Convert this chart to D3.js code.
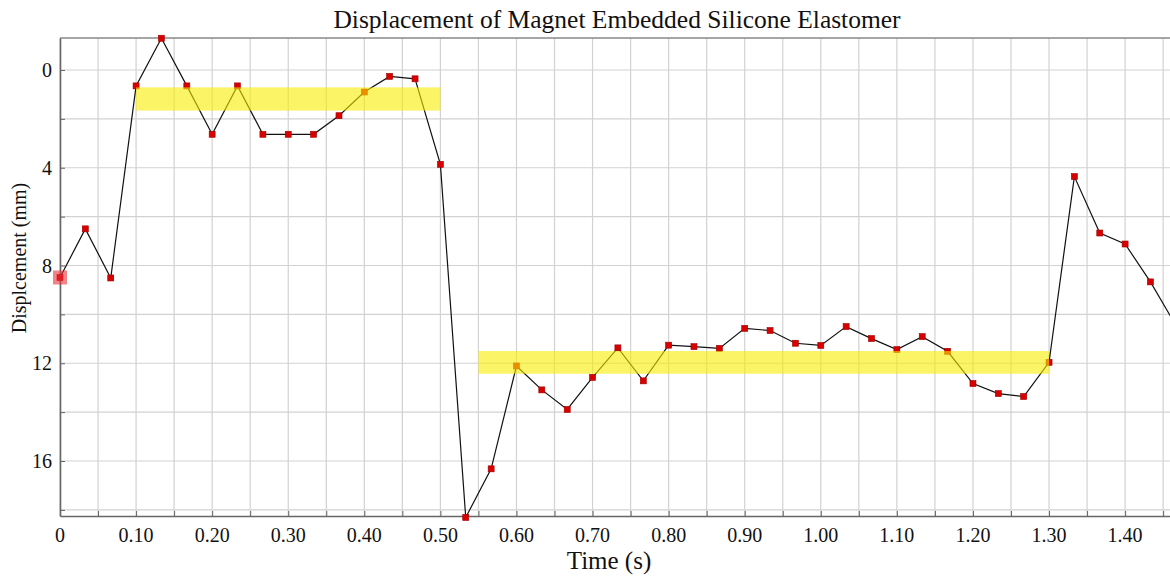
<!DOCTYPE html>
<html>
<head>
<meta charset="utf-8">
<script src="https://cdn.jsdelivr.net/npm/d3@7"></script>
<style>
  body { margin: 0; background: #fff; }
  svg { display: block; font-family: "Liberation Serif", "Times New Roman", serif; }
</style>
</head>
<body>
<div id="chart"></div>
<script>
// sample times (s), one frame every 1/30 s
var times = [0, 0.0333, 0.0667, 0.1, 0.1333, 0.1667, 0.2, 0.2333, 0.2667, 0.3,
  0.3333, 0.3667, 0.4, 0.4333, 0.4667, 0.5, 0.5333, 0.5667, 0.6, 0.6333,
  0.6667, 0.7, 0.7333, 0.7667, 0.8, 0.8333, 0.8667, 0.9, 0.9333, 0.9667,
  1.0, 1.0333, 1.0667, 1.1, 1.1333, 1.1667, 1.2, 1.2333, 1.2667, 1.3,
  1.3333, 1.3667, 1.4, 1.4333, 1.4667];

// displacement (mm)
var displacement = [8.49, 6.50, 8.51, 0.65, -1.30, 0.65, 2.63, 0.65, 2.63, 2.63,
  2.63, 1.87, 0.90, 0.26, 0.36, 3.86, 18.31, 16.32, 12.11, 13.09,
  13.89, 12.58, 11.37, 12.72, 11.26, 11.32, 11.39, 10.57, 10.66, 11.18,
  11.27, 10.50, 10.99, 11.44, 10.91, 11.51, 12.83, 13.24, 13.36, 11.96,
  4.36, 6.67, 7.12, 8.67, 10.45];

// highlighted steady-state bands
var bandStart = [0.10, 0.55];
var bandEnd = [0.50, 1.30];
var bandLow = [0.71, 11.50];
var bandHigh = [1.66, 12.43];

var xTickValues = [0, 0.1, 0.2, 0.3, 0.4, 0.5, 0.6, 0.7, 0.8, 0.9, 1.0, 1.1, 1.2, 1.3, 1.4];
var yTickValues = [0, 4, 8, 12, 16];

var svgWidth = 1170, svgHeight = 577;
var margin = { top: 38, right: 0, bottom: 61, left: 60 };
var width = svgWidth - margin.left - margin.right;
var height = svgHeight - margin.top - margin.bottom;

var svg = d3.select('#chart').append('svg')
  .attr('width', svgWidth)
  .attr('height', svgHeight);

var x = d3.scaleLinear().domain([0, 1.459]).range([0, width]);
var y = d3.scaleLinear().domain([-1.31, 18.25]).range([0, height]);

var g = svg.append('g')
  .attr('transform', 'translate(' + margin.left + ',' + margin.top + ')');

// grid
var xGrid = d3.range(0, 1.46, 0.05);
var yGrid = d3.range(0, 18.1, 2);

g.append('g').selectAll('line')
  .data(xGrid)
  .enter().append('line')
  .attr('x1', d => x(d)).attr('x2', d => x(d))
  .attr('y1', 0).attr('y2', height)
  .attr('stroke', '#d2d2d2').attr('stroke-width', 1.2);

g.append('g').selectAll('line')
  .data(yGrid)
  .enter().append('line')
  .attr('x1', 0).attr('x2', width)
  .attr('y1', d => y(d)).attr('y2', d => y(d))
  .attr('stroke', '#d2d2d2').attr('stroke-width', 1.2);

// frame
g.append('line').attr('x1', 0).attr('x2', width).attr('y1', 0).attr('y2', 0)
  .attr('stroke', '#888').attr('stroke-width', 1.5);

// x axis (ticks point inward)
var xAxis = g.append('g')
  .attr('transform', 'translate(0,' + height + ')')
  .call(d3.axisBottom(x).tickValues(xGrid).tickSizeInner(-5).tickSizeOuter(0).tickFormat(''));
xAxis.select('.domain').attr('stroke', '#666').attr('stroke-width', 1.6);
xAxis.selectAll('.tick line').attr('stroke', '#666');

g.append('g').selectAll('text')
  .data(xTickValues)
  .enter().append('text')
  .attr('x', d => x(d))
  .attr('y', height + 26)
  .attr('text-anchor', 'middle')
  .attr('font-size', 20)
  .attr('fill', '#111')
  .text(d => d === 0 ? '0' : d3.format('.2f')(d));

// y axis
var yAxis = g.append('g')
  .call(d3.axisLeft(y).tickValues(yGrid).tickSizeInner(-5).tickSizeOuter(0).tickFormat(''));
yAxis.select('.domain').attr('stroke', '#666').attr('stroke-width', 1.6);
yAxis.selectAll('.tick line').attr('stroke', '#666');

g.append('g').selectAll('text')
  .data(yTickValues)
  .enter().append('text')
  .attr('x', -8)
  .attr('y', d => y(d) + 7)
  .attr('text-anchor', 'end')
  .attr('font-size', 20)
  .attr('fill', '#111')
  .text(d => d);

// line + markers
var points = times.map((t, i) => ({ t: t, v: displacement[i] }));

g.append('path')
  .datum(points)
  .attr('fill', 'none')
  .attr('stroke', '#111')
  .attr('stroke-width', 1.2)
  .attr('d', d3.line().x(d => x(d.t)).y(d => y(d.v)));

g.append('g').selectAll('rect')
  .data(points)
  .enter().append('rect')
  .attr('x', d => x(d.t) - 3)
  .attr('y', d => y(d.v) - 3)
  .attr('width', 6).attr('height', 6)
  .attr('fill', '#d90000')
  .attr('stroke', '#a00000').attr('stroke-width', 0.6);

// yellow bands over the trace
g.append('g').selectAll('rect')
  .data(bandStart)
  .enter().append('rect')
  .attr('x', (d, i) => x(bandStart[i]))
  .attr('width', (d, i) => x(bandEnd[i]) - x(bandStart[i]))
  .attr('y', (d, i) => y(bandLow[i]))
  .attr('height', (d, i) => y(bandHigh[i]) - y(bandLow[i]))
  .attr('fill', '#f7ec00')
  .attr('opacity', 0.6);

// selected first point
g.append('rect')
  .attr('x', x(times[0]) - 7)
  .attr('y', y(displacement[0]) - 7)
  .attr('width', 14).attr('height', 14)
  .attr('fill', '#e8303a')
  .attr('opacity', 0.6);

// titles
svg.append('text')
  .attr('x', 617).attr('y', 28)
  .attr('text-anchor', 'middle')
  .attr('font-size', 25.5)
  .attr('fill', '#111')
  .text('Displacement of Magnet Embedded Silicone Elastomer');

svg.append('text')
  .attr('x', 609).attr('y', 569)
  .attr('text-anchor', 'middle')
  .attr('font-size', 25)
  .attr('fill', '#111')
  .text('Time (s)');

svg.append('text')
  .attr('transform', 'translate(26,258) rotate(-90)')
  .attr('text-anchor', 'middle')
  .attr('font-size', 20)
  .attr('fill', '#111')
  .text('Displcement (mm)');
</script>
</body>
</html>
